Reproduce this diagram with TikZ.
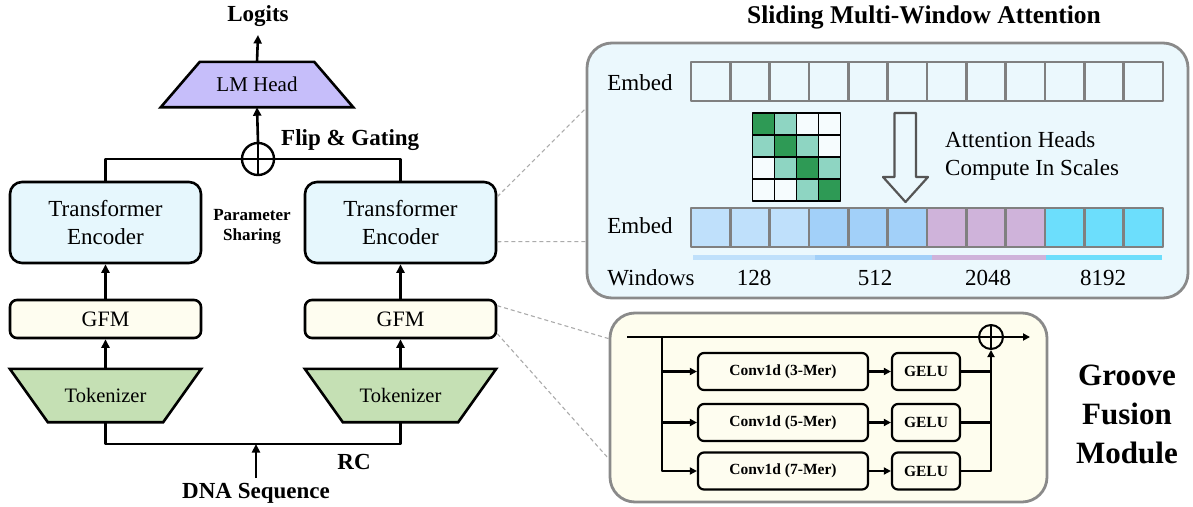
\documentclass[tikz,border=0pt]{standalone}
\usepackage{fontspec}
\setmainfont{Liberation Serif}
\usetikzlibrary{arrows.meta,calc}

\definecolor{encfill}{HTML}{E6F7FD}
\definecolor{gfmfill}{HTML}{FEFDF0}
\definecolor{tokfill}{HTML}{C5E0B4}
\definecolor{headfill}{HTML}{C6BEFA}
\definecolor{panelA}{HTML}{EBF8FD}
\definecolor{panelB}{HTML}{FEFDEE}
\definecolor{panelline}{HTML}{8A8A8A}
\definecolor{cellline}{HTML}{808080}
\definecolor{dashline}{HTML}{ABABAB}
\definecolor{gdark}{HTML}{2E9A55}
\definecolor{glight}{HTML}{8ED5C2}
\definecolor{mwhite}{HTML}{F6FCFE}
\definecolor{wA}{HTML}{BFE0FB}
\definecolor{wB}{HTML}{A2D0F9}
\definecolor{wC}{HTML}{CFB3DA}
\definecolor{wD}{HTML}{6CDEFC}
\definecolor{hollow}{HTML}{555555}

\pgfdeclarelayer{bg}
\pgfsetlayers{bg,main}

\tikzset{
  blk/.style={draw=black, line width=2.6pt},
  wire/.style={line width=2.6pt},
  arr/.style={wire, -{Triangle[length=8.5pt,width=8pt]}},
  thin wire/.style={line width=2.3pt},
  thin arr/.style={thin wire, -{Triangle[length=7pt,width=7pt]}},
  encbox/.style={blk, fill=encfill, rounded corners=12pt, minimum width=191pt,
    minimum height=81pt, inner sep=0pt, align=center, font=\fontsize{23}{28}\selectfont},
  gfmbox/.style={blk, fill=gfmfill, rounded corners=7pt, minimum width=191pt,
    minimum height=38pt, inner sep=0pt, font=\fontsize{22}{26}\selectfont},
  tokbox/.style={minimum width=191pt, minimum height=53pt, inner sep=0pt,
    font=\fontsize{20.5}{24}\selectfont},
  oplus/.style={circle, draw=black, line width=2.4pt, inner sep=0pt,
    path picture={\draw[line width=2.4pt]
      (path picture bounding box.north) -- (path picture bounding box.south)
      (path picture bounding box.west) -- (path picture bounding box.east);}},
  lbl/.style={font=\fontsize{23}{28}\selectfont, inner sep=0pt},
  bold lbl/.style={font=\fontsize{23}{28}\selectfont\bfseries, inner sep=0pt},
  panel/.style={draw=panelline, line width=2.8pt, rounded corners=25pt, inner sep=0pt},
  cellbox/.style={draw=cellline, line width=2.6pt, minimum width=39.33pt,
    minimum height=39pt, inner sep=0pt},
  smallbox/.style={draw=black, line width=2.2pt, rounded corners=6pt, fill=gfmfill,
    minimum height=37pt, inner sep=0pt, font=\fontsize{15.5}{18}\selectfont\bfseries},
  zoomline/.style={draw=dashline, line width=1.1pt, dash pattern=on 4pt off 3pt},
}

\begin{document}
\begin{tikzpicture}[x=1pt, y=-1pt, line join=round]
\useasboundingbox (0,0) rectangle (1193,506);

% ---------------- two-strand backbone ----------------
\node[encbox] (encL) at (105.5,222.5) {Transformer\\Encoder};
\node[encbox] (encR) at (400.5,222.5) {Transformer\\Encoder};
\node[gfmbox] (gfmL) at (105.5,319) {GFM};
\node[gfmbox] (gfmR) at (400.5,319) {GFM};
\node[tokbox] (tokL) at (105.5,395.5) {Tokenizer};
\node[tokbox] (tokR) at (400.5,395.5) {Tokenizer};
\node[font=\fontsize{21}{25}\selectfont, minimum width=192pt, minimum height=45pt,
  inner sep=0pt] (head) at (257,84.5) {LM Head};
\node[oplus, minimum size=32pt] (mix) at (258,159) {};

\begin{pgfonlayer}{bg}
  \draw[blk, fill=headfill] (head.south west) -- (head.south east)
    -- ([xshift=-39pt]head.north east) -- ([xshift=39pt]head.north west) -- cycle;
  \foreach \t in {tokL,tokR}
    \draw[blk, fill=tokfill] (\t.north west) -- (\t.north east)
      -- ([xshift=-38pt]\t.south east) -- ([xshift=38pt]\t.south west) -- cycle;
\end{pgfonlayer}

\node[bold lbl, anchor=south, inner ysep=8pt] (logits) at (258,35) {Logits};
\node[bold lbl, anchor=west] (flip) at (281,140) {Flip \& Gating};
\node[font=\fontsize{17}{20}\selectfont\bfseries, align=center, inner sep=0pt]
  (share) at (252,227) {Parameter\\Sharing};
\node[bold lbl, anchor=north, inner ysep=5pt] (dna) at (256,478) {DNA Sequence};
\node[bold lbl] (rc) at (354,462) {RC};
\coordinate (fork) at (256,444);

\draw[arr] (tokL.north) -- (gfmL.south);
\draw[arr] (tokR.north) -- (gfmR.south);
\draw[arr] (gfmL.north) -- (encL.south);
\draw[arr] (gfmR.north) -- (encR.south);
\draw[wire] (encL.north) |- (mix.west);
\draw[wire] (encR.north) |- (mix.east);
\draw[arr] (mix.north) -- (head.south);
\draw[arr] (head.north) -- (logits.south);
\draw[wire] (tokL.south) |- (fork) -| (tokR.south);
\draw[arr] (dna.north) -- (fork);

% ---------------- sliding multi-window attention ----------------
\node[font=\fontsize{25.5}{30}\selectfont\bfseries, inner sep=0pt] (title) at (924,17)
  {Sliding Multi-Window Attention};
\node[panel, fill=panelA, minimum width=601pt, minimum height=255pt] (attn) at (887.5,170.5) {};

\node[lbl] (embTop) at (640,83) {Embed};
\node[lbl] (embBot) at (640,226) {Embed};
\node[lbl] (win) at (651,278) {Windows};

\foreach \i in {0,...,11}
  \node[cellbox] (t\i) at ({691+39.33*(\i+0.5)},81.5) {};
\foreach \i/\col in {0/wA,1/wA,2/wA,3/wB,4/wB,5/wB,6/wC,7/wC,8/wC,9/wD,10/wD,11/wD}
  \node[cellbox, fill=\col] (b\i) at ({691+39.33*(\i+0.5)},227.5) {};

\fill[wA] (693,255) rectangle (815,259.5);
\fill[wB] (815,255) rectangle (932,259.5);
\fill[wC] (932,255) rectangle (1046,259.5);
\fill[wD] (1046,255) rectangle (1162,259.5);

\node[lbl] (w128) at (754,278) {128};
\node[lbl] (w512) at (875,278) {512};
\node[lbl] (w2048) at (988,278) {2048};
\node[lbl] (w8192) at (1103,278) {8192};

% attention mask
\foreach \r in {0,...,3}
  \foreach \c in {0,...,3} {
    \pgfmathtruncatemacro\d{abs(\r-\c)}
    \ifcase\d \def\mc{gdark}\or \def\mc{glight}\else \def\mc{mwhite}\fi
    \draw[line width=1.6pt, fill=\mc] ({752.5+22*\c},{113+22*\r}) rectangle ++(22,22);
  }

% hollow down arrow
\draw[draw=hollow, line width=2.2pt, fill=panelA]
  (894.5,113) -- (916,113) -- (916,177) -- (928,177) -- (905.5,202)
  -- (883,177) -- (894.5,177) -- cycle;

\node[lbl, anchor=west, align=left] (heads) at (945,156)
  {Attention Heads\\Compute In Scales};

% ---------------- groove fusion module ----------------
\node[panel, fill=panelB, minimum width=437pt, minimum height=189pt] (gfmpanel) at (828.5,407.5) {};

\node[smallbox, minimum width=170pt] (c3) at (783,371.5) {Conv1d (3-Mer)};
\node[smallbox, minimum width=170pt] (c5) at (783,422.5) {Conv1d (5-Mer)};
\node[smallbox, minimum width=170pt] (c7) at (783,471) {Conv1d (7-Mer)};
\node[smallbox, minimum width=68pt] (g3) at (926,371.5) {GELU};
\node[smallbox, minimum width=68pt] (g5) at (926,422.5) {GELU};
\node[smallbox, minimum width=68pt] (g7) at (926,471) {GELU};
\node[oplus, minimum size=24pt, line width=2pt] (sum) at (991,337) {};

\coordinate (gin) at (627,337);
\coordinate (split) at (662,337);
\coordinate (gout) at (1030,337);

\draw[thin wire] (gin) -- (sum.west);
\draw[thin arr] (sum.east) -- (gout);
\draw[thin arr] (split) |- (c7.west);
\draw[thin arr] (split |- c3) -- (c3.west);
\draw[thin arr] (split |- c5) -- (c5.west);
\draw[thin arr] (c3.east) -- (g3.west);
\draw[thin arr] (c5.east) -- (g5.west);
\draw[thin arr] (c7.east) -- (g7.west);
\draw[thin wire] (g3.east) -- (g3.east -| sum);
\draw[thin wire] (g5.east) -- (g5.east -| sum);
\draw[thin arr] (g7.east) -| (sum.south);

\node[font=\fontsize{31}{39}\selectfont\bfseries, align=center, inner sep=0pt]
  (gfmname) at (1127,414) {Groove\\Fusion\\Module};

% ---------------- zoom-in guides ----------------
\draw[zoomline] ([yshift=-16pt]encR.north east) -- ([yshift=-67pt]attn.north west);
\draw[zoomline] ([yshift=-61pt]encR.north east) -- ([yshift=-200pt]attn.north west);
\draw[zoomline] ([yshift=-7pt]gfmR.north east) -- ([yshift=-27pt]gfmpanel.north west);
\draw[zoomline] ([yshift=-35pt]gfmR.north east) -- ([yshift=-147pt]gfmpanel.north west);

\end{tikzpicture}
\end{document}
